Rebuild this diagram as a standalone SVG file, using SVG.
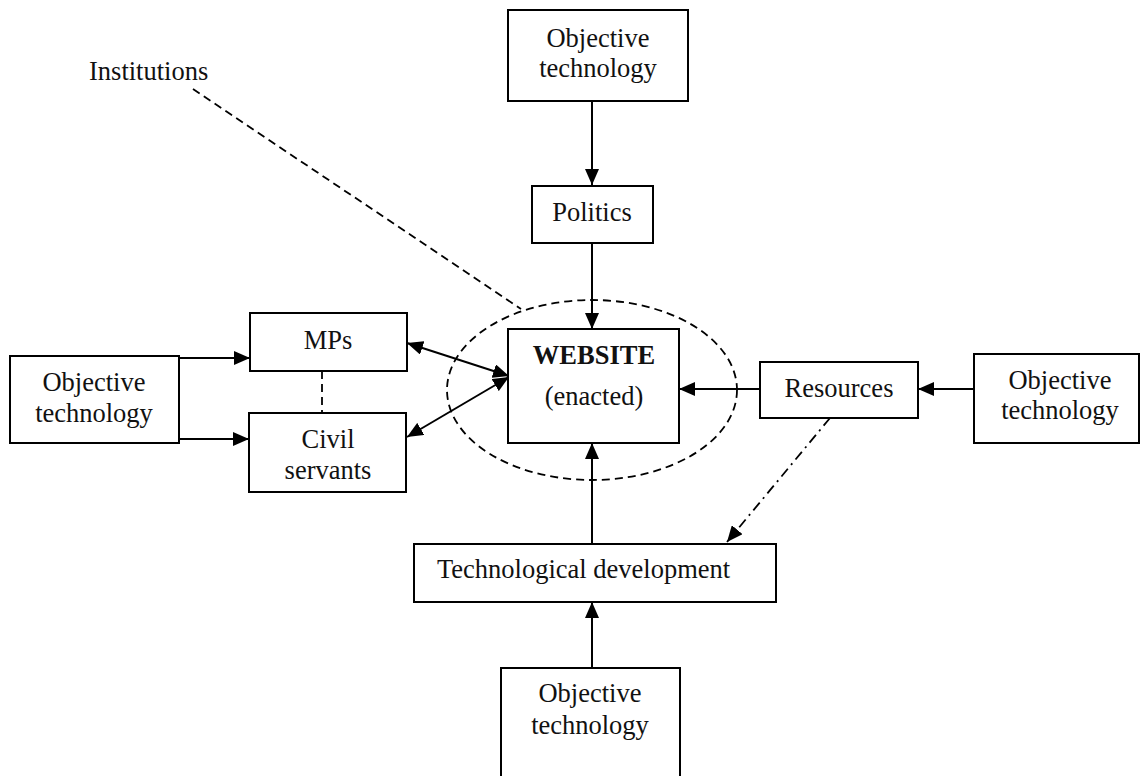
<svg xmlns="http://www.w3.org/2000/svg" width="1141" height="776" viewBox="0 0 1141 776">
<defs>
<marker id="ah" viewBox="0 0 16 14" refX="16" refY="7" markerWidth="16" markerHeight="14" markerUnits="userSpaceOnUse" orient="auto-start-reverse">
<path d="M0,0 L16,7 L0,14 Z" fill="#000"/>
</marker>
<style>
.box{fill:#fff;stroke:#000;stroke-width:2}
.t{font-family:"Liberation Serif","Times New Roman",serif;font-size:26.5px;fill:#111;text-anchor:middle}
.ln{fill:none;stroke:#000;stroke-width:2}
.dash{fill:none;stroke:#000;stroke-width:1.8;stroke-dasharray:8 5}
.dd{fill:none;stroke:#000;stroke-width:1.8;stroke-dasharray:10 5 2 5}
</style>
</defs>
<rect width="1141" height="776" fill="#fff"/>

<g id="connectors">
<line class="dash" x1="193" y1="89" x2="521" y2="309"/>
<ellipse class="dash" cx="592" cy="390" rx="145" ry="90"/>
<line class="ln" x1="592" y1="101" x2="592" y2="185" marker-end="url(#ah)"/>
<line class="ln" x1="592" y1="243" x2="592" y2="329" marker-end="url(#ah)"/>
<line class="ln" x1="592" y1="544" x2="592" y2="443" marker-end="url(#ah)"/>
<line class="ln" x1="592" y1="668" x2="592" y2="602" marker-end="url(#ah)"/>
<line class="ln" x1="760" y1="389" x2="679" y2="389" marker-end="url(#ah)"/>
<line class="ln" x1="974" y1="389" x2="918" y2="389" marker-end="url(#ah)"/>
<line class="ln" x1="179" y1="358" x2="250" y2="358" marker-end="url(#ah)"/>
<line class="ln" x1="179" y1="439" x2="249" y2="439" marker-end="url(#ah)"/>
<line class="dash" x1="322" y1="371" x2="322" y2="413"/>
<line class="ln" x1="407" y1="343" x2="509" y2="376" marker-start="url(#ah)" marker-end="url(#ah)"/>
<line class="ln" x1="407" y1="437" x2="509" y2="377" marker-start="url(#ah)" marker-end="url(#ah)"/>
<line class="dd" x1="830" y1="418" x2="727" y2="542" marker-end="url(#ah)"/>
</g>

<g id="institutions">
<text class="t" x="89" y="80" style="text-anchor:start">Institutions</text>
</g>

<g id="obj-top">
<rect class="box" x="508" y="10" width="180" height="91"/>
<text class="t" x="598" y="47">Objective</text>
<text class="t" x="598" y="77">technology</text>
</g>

<g id="politics">
<rect class="box" x="532" y="186" width="121" height="57"/>
<text class="t" x="592" y="221">Politics</text>
</g>

<g id="website">
<rect class="box" x="508" y="329" width="171" height="114"/>
<text class="t" x="594" y="364" style="font-weight:bold">WEBSITE</text>
<text class="t" x="594" y="405">(enacted)</text>
</g>

<g id="obj-left">
<rect class="box" x="10" y="356" width="169" height="87"/>
<text class="t" x="94" y="391">Objective</text>
<text class="t" x="94" y="422">technology</text>
</g>

<g id="mps">
<rect class="box" x="250" y="313" width="157" height="58"/>
<text class="t" x="328" y="349">MPs</text>
</g>

<g id="civil">
<rect class="box" x="249" y="413" width="157" height="79"/>
<text class="t" x="328" y="448">Civil</text>
<text class="t" x="328" y="479">servants</text>
</g>

<g id="resources">
<rect class="box" x="760" y="362" width="158" height="56"/>
<text class="t" x="839" y="397">Resources</text>
</g>

<g id="obj-right">
<rect class="box" x="974" y="354" width="165" height="89"/>
<text class="t" x="1060" y="389">Objective</text>
<text class="t" x="1060" y="419">technology</text>
</g>

<g id="techdev">
<rect class="box" x="414" y="544" width="362" height="58"/>
<text class="t" x="437" y="578" style="text-anchor:start">Technological development</text>
</g>

<g id="obj-bottom">
<rect class="box" x="501" y="668" width="179" height="115"/>
<text class="t" x="590" y="702">Objective</text>
<text class="t" x="590" y="734">technology</text>
</g>
</svg>
